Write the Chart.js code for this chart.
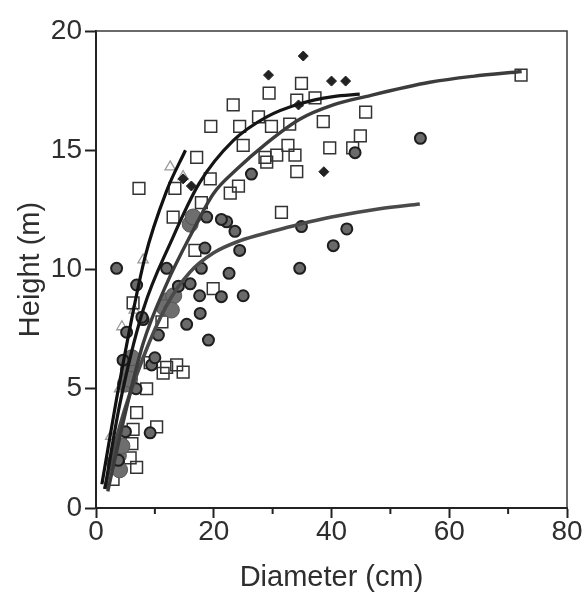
<!DOCTYPE html>
<html><head><meta charset="utf-8">
<script src="https://cdn.jsdelivr.net/npm/chart.js@4"></script>
<style>html,body{margin:0;padding:0;background:#fff}</style>
</head><body>
<canvas id="c" width="586" height="592"></canvas>
<script>
// Diameter (cm), Height (m) pairs
const squares = [[72.2,18.15],[45.8,16.6],[44.9,15.6],[43.6,15.1],[39.7,15.1],[34.9,17.8],[34.1,17.1],[37.2,17.2],[29.4,17.4],[23.3,16.9],[27.6,16.4],[19.5,16.0],[24.4,16.0],[29.8,16.0],[32.9,16.1],[38.6,16.2],[25.0,15.2],[32.6,15.2],[28.7,14.7],[30.7,14.8],[33.8,14.8],[34.1,14.1],[29.0,14.5],[24.2,13.5],[22.8,13.2],[31.5,12.4],[17.1,14.7],[19.4,13.8],[13.4,13.4],[7.3,13.4],[17.9,12.8],[13.1,12.2],[16.8,10.8],[19.9,9.2],[6.3,8.6],[11.2,7.8],[12.0,5.9],[13.7,6.0],[14.8,5.7],[11.4,5.65],[9.2,6.1],[8.6,5.0],[6.9,4.0],[10.3,3.4],[6.3,3.3],[5.8,2.1],[6.9,1.7],[2.9,1.2],[6.1,2.7]];
const circles = [[55.1,15.5],[44.0,14.9],[42.6,11.7],[40.3,11.0],[34.9,11.8],[34.6,10.05],[26.4,14.0],[18.8,12.2],[22.2,12.0],[21.3,12.1],[23.6,11.6],[18.5,10.9],[24.4,10.8],[17.9,10.05],[22.6,9.84],[12.0,10.05],[21.3,8.86],[25.0,8.9],[17.6,8.9],[3.5,10.05],[6.9,9.35],[14.0,9.3],[16.0,9.4],[8.0,7.9],[5.2,7.37],[17.7,8.16],[15.4,7.7],[19.1,7.04],[10.6,7.25],[9.45,6.0],[10.0,6.3],[9.2,3.15],[4.6,6.2],[6.8,5.0],[5.0,3.2],[3.8,2.0],[7.8,8.0]];
const bigCircles = [[12.3,8.7],[13.2,8.9],[11.6,8.4],[12.8,8.3],[16.0,11.9],[16.5,12.2],[5.5,5.8],[6.1,6.3],[5.0,5.2],[5.7,5.4],[3.8,2.2],[4.4,2.6],[3.2,1.9],[4.0,1.6]];
const diamonds = [[35.2,18.95],[29.3,18.15],[40.0,17.9],[42.4,17.9],[38.7,14.1],[34.4,16.9],[16.2,13.5],[14.8,13.8]];
const triangles = [[12.6,14.3],[8.0,10.4],[4.4,7.6],[14.8,13.9],[2.5,3.0],[4.0,5.0],[6.5,8.3]];
const fitA = [[1.0,1.0],[4.1,5.4],[8.3,10.5],[12.0,13.3],[15.2,15.0]];
const fitB = [[1.5,0.8],[4.0,4.3],[8.0,8.3],[12.8,11.2],[17.5,13.6],[23.3,15.4],[29.0,16.4],[34.6,16.95],[40.3,17.25],[44.8,17.35]];
const fitC = [[2.0,0.7],[5.0,4.0],[8.0,6.9],[12.0,9.4],[16.2,11.5],[20.0,13.2],[23.9,14.2],[29.0,15.3],[34.6,16.3],[40.3,16.9],[45.8,17.25],[56.7,17.85],[64.0,18.1],[72.3,18.3]];
const fitD = [[1.5,0.8],[4.0,3.4],[8.0,6.3],[12.0,8.5],[16.0,9.9],[20.0,10.7],[24.4,11.2],[30.0,11.6],[34.6,11.9],[40.0,12.2],[48.2,12.55],[55.0,12.75]];
const xTicks = [0,20,40,60,80];
const xMinorTicks = [10,30,50,70];
const yTicks = [0,5,10,15,20];

const toXY = a => a.map(([x,y]) => ({x, y}));
const lineDs = (d, color, w, ord) => ({type:'line', data: toXY(d), borderColor: color, borderWidth: w, pointRadius: 0, fill: false, cubicInterpolationMode: 'monotone', order: ord});
const fam = "'Liberation Sans', Arial, sans-serif";
const tickFont = {family: fam, size: 28, lineHeight: 1};
const titleFont = {family: fam, size: 29, lineHeight: 1};

const framePlugin = {
  id: 'frame',
  afterDraw(chart) {
    const {ctx, chartArea: {left, right, top, bottom}, scales: {x}} = chart;
    ctx.save();
    ctx.strokeStyle = '#3a3a3a'; ctx.lineWidth = 1.5;
    ctx.beginPath(); ctx.moveTo(left, top); ctx.lineTo(right, top); ctx.lineTo(right, bottom); ctx.stroke();
    ctx.strokeStyle = '#222'; ctx.lineWidth = 2;
    xMinorTicks.forEach(v => { const px = x.getPixelForValue(v); ctx.beginPath(); ctx.moveTo(px, bottom); ctx.lineTo(px, bottom + 6); ctx.stroke(); });
    ctx.restore();
  }
};

new Chart(document.getElementById('c'), {
  type: 'scatter',
  data: { datasets: [
    lineDs(fitA, '#111', 3.2, 0),
    lineDs(fitB, '#151515', 3.2, 0),
    lineDs(fitC, '#3c3c3c', 3.4, 0),
    lineDs(fitD, '#4a4a4a', 3.6, 0),
    {data: toXY(triangles), pointStyle: 'triangle', pointRadius: 6, backgroundColor: 'rgba(255,255,255,0)', borderColor: '#9a9a9a', borderWidth: 1.3, order: 5},
    {data: toXY(squares), pointStyle: 'rect', pointRadius: 8.3, backgroundColor: 'rgba(255,255,255,0)', borderColor: '#333', borderWidth: 1.5, order: 4},
    {data: toXY(bigCircles), pointStyle: 'circle', pointRadius: 8, backgroundColor: '#6e6e6e', borderColor: '#555', borderWidth: 1, order: 3},
    {data: toXY(circles), pointStyle: 'circle', pointRadius: 5.5, backgroundColor: '#6a6a6a', borderColor: '#1e1e1e', borderWidth: 2, order: 2},
    {data: toXY(diamonds), pointStyle: 'rectRot', pointRadius: 5, backgroundColor: '#222', borderColor: '#222', borderWidth: 1, order: 1}
  ]},
  options: {
    responsive: false, animation: false, devicePixelRatio: 1,
    layout: {padding: {left: 0, right: 19, top: 31, bottom: 0}},
    plugins: {legend: {display: false}, tooltip: {enabled: false}},
    scales: {
      x: {
        type: 'linear', min: 0, max: 80,
        afterFit: s => { s.height = 84; },
        afterBuildTicks: s => { s.ticks = xTicks.map(v => ({value: v})); },
        ticks: {font: tickFont, color: '#2e2e2e', padding: 0, maxRotation: 0},
        grid: {drawOnChartArea: false, drawTicks: true, tickLength: 10, tickColor: '#222', tickWidth: 2},
        border: {display: true, color: '#222', width: 2},
        title: {display: true, text: 'Diameter (cm)', font: titleFont, color: '#2e2e2e', padding: {top: 0, bottom: 0}}
      },
      y: {
        type: 'linear', min: 0, max: 20,
        afterFit: s => { s.width = 96; },
        afterBuildTicks: s => { s.ticks = yTicks.map(v => ({value: v})); },
        ticks: {font: tickFont, color: '#2e2e2e', padding: 3},
        grid: {drawOnChartArea: false, drawTicks: true, tickLength: 11, tickColor: '#222', tickWidth: 2},
        border: {display: true, color: '#222', width: 2},
        title: {display: true, text: 'Height (m)', font: titleFont, color: '#2e2e2e', padding: {top: 16, bottom: 0}}
      }
    }
  },
  plugins: [framePlugin]
});
</script>
</body></html>
